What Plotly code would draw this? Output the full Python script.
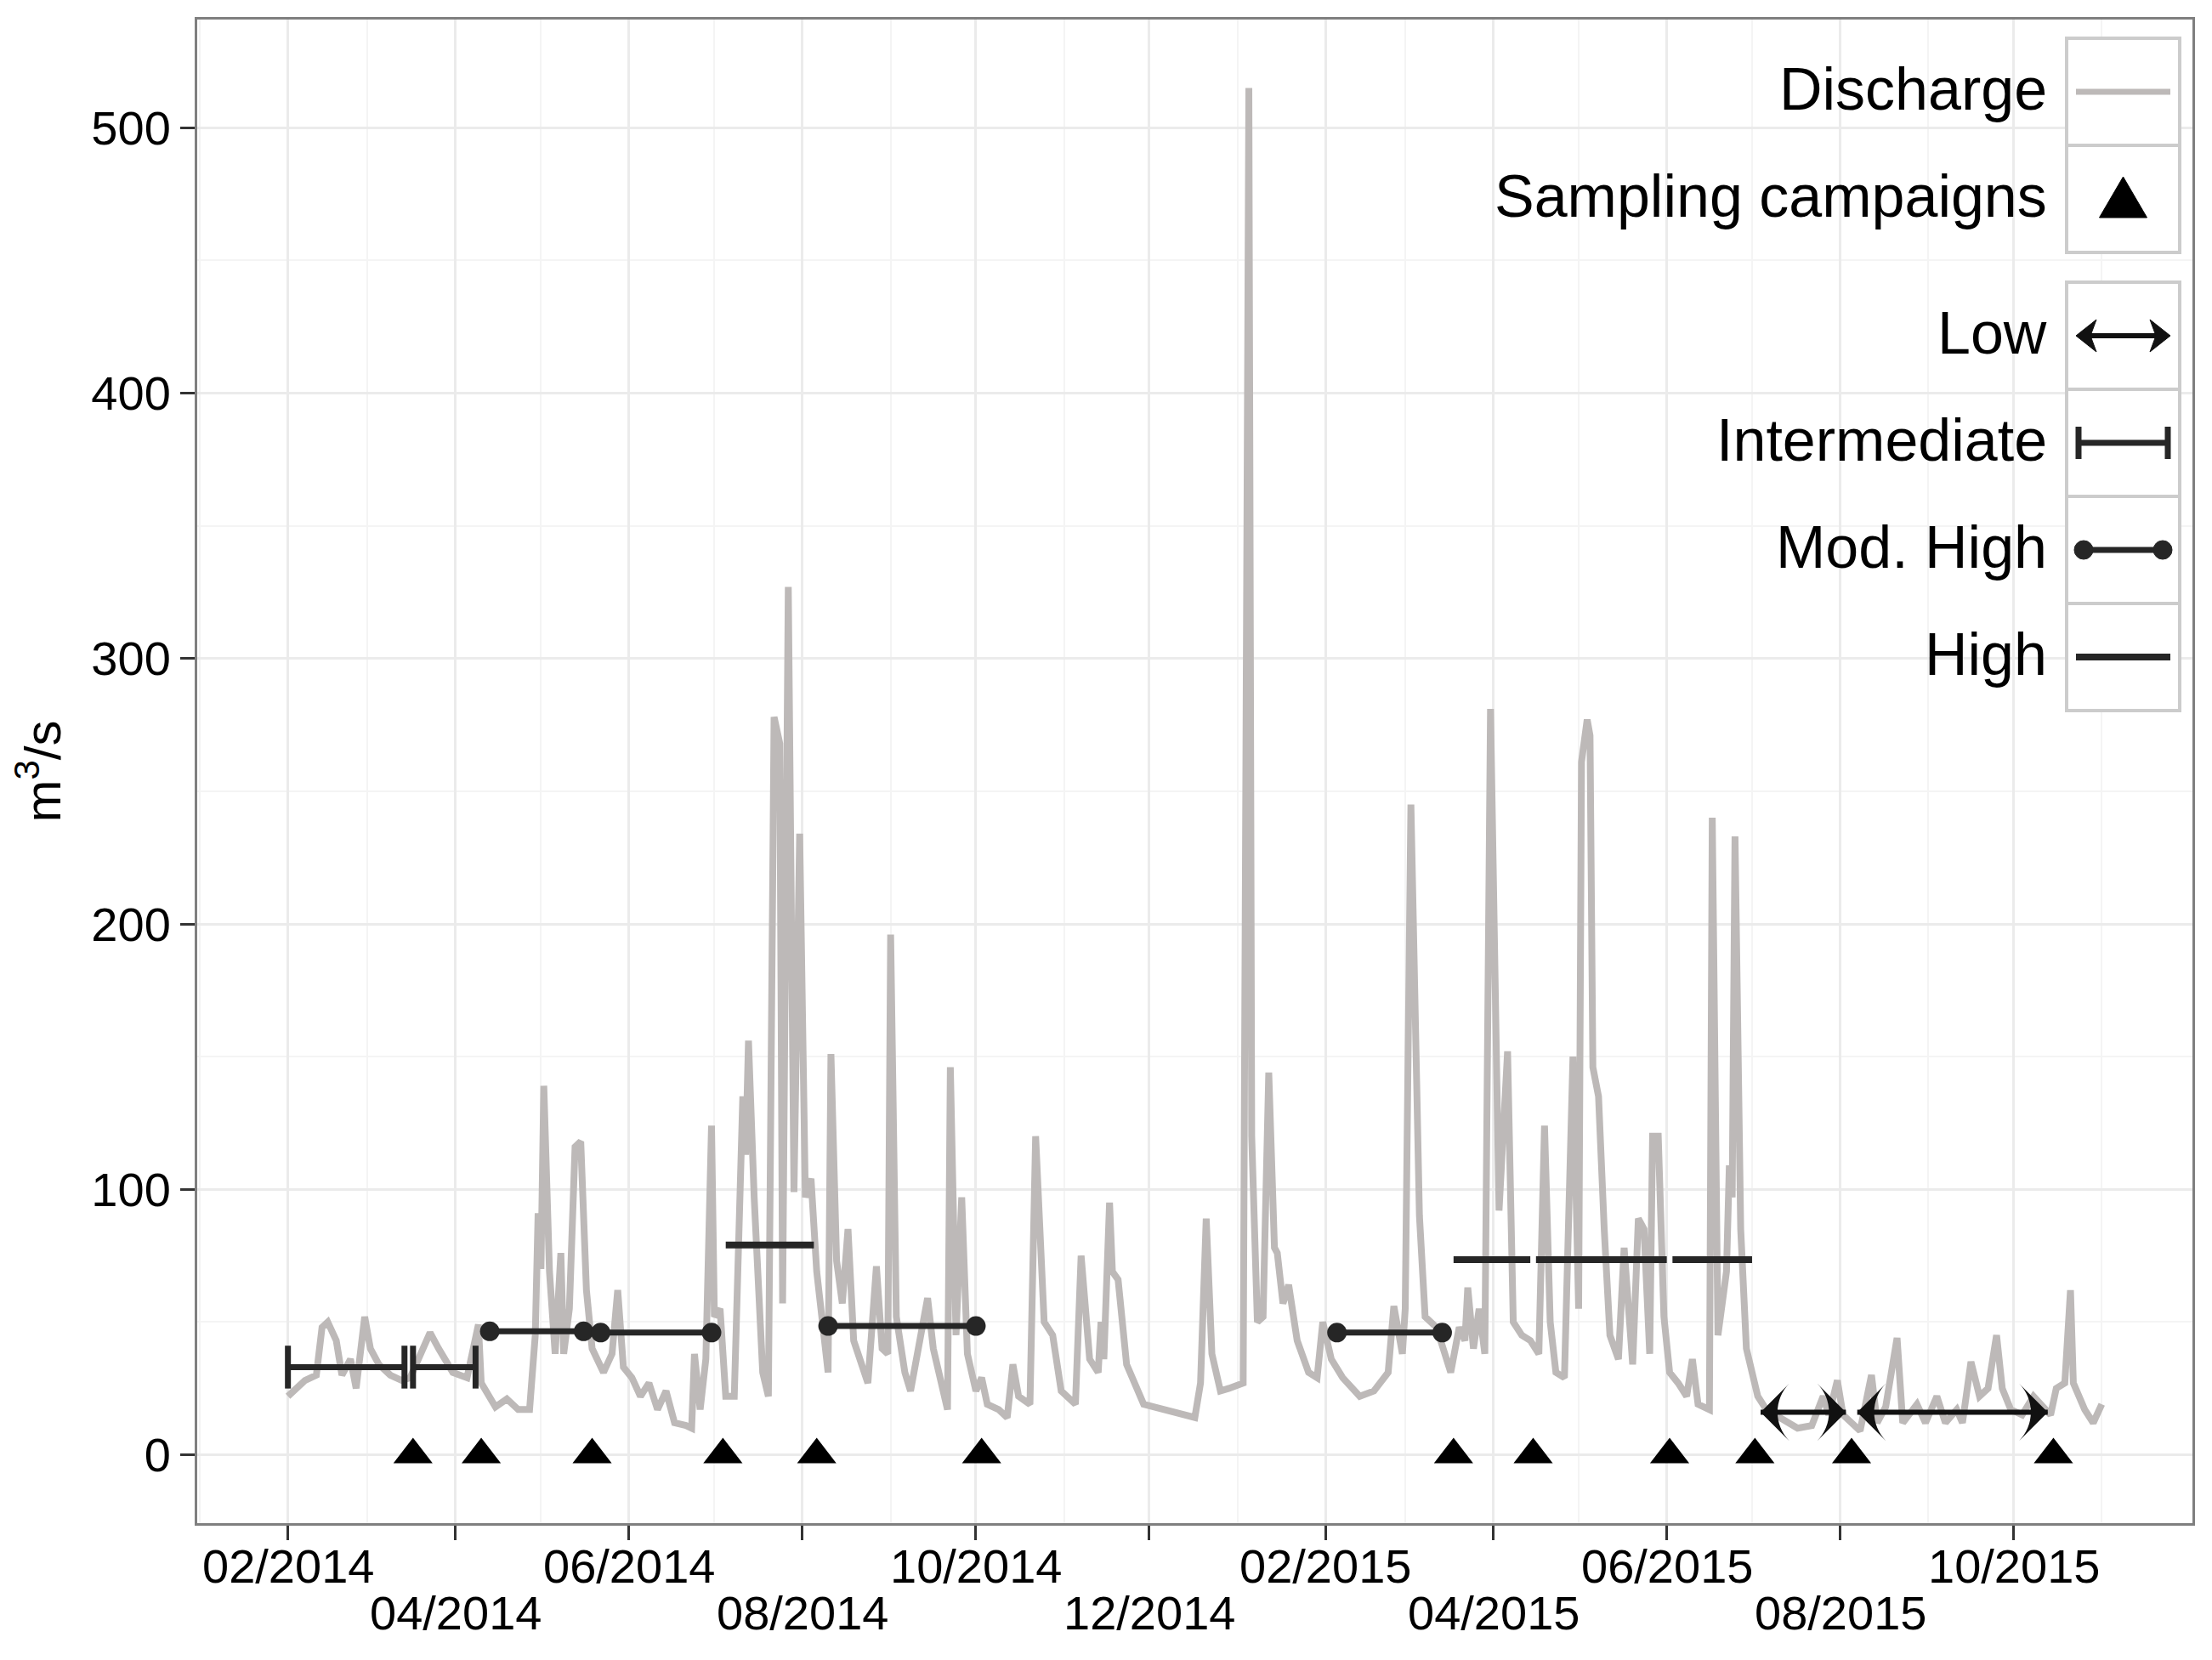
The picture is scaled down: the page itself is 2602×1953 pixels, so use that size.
import pandas as pd
import plotly.graph_objects as go

# Discharge: days since 1 Feb 2014 and m3/s
q_day = [0, 6, 10, 12, 14, 17, 19, 22, 24, 27, 29, 32, 36, 40, 43, 46, 50, 53, 58, 63,
         67, 68, 73, 77, 81, 85, 87, 88, 89, 90, 92, 94, 96, 97, 99, 101, 103, 105, 107, 111,
         114, 116, 118, 121, 124, 127, 130, 133, 136, 140, 142, 143, 145, 147, 149, 150, 152, 154, 157, 160,
         161, 162, 164, 167, 169, 171, 173, 174, 176, 178, 180, 182, 184, 186, 188, 190, 191, 193, 195, 197,
         199, 202, 204, 207, 209, 211, 212, 214, 217, 219, 222, 225, 227, 232, 233, 235, 237, 239, 242, 244,
         246, 250, 253, 255, 257, 261, 263, 266, 269, 272, 277, 279, 282, 285, 286, 287, 289, 290, 292, 295,
         301, 311, 319, 321, 323, 325, 328, 331, 336, 338, 339, 341, 343, 345, 347, 348, 350, 352, 355, 359,
         362, 364, 367, 371, 377, 382, 387, 389, 392, 393, 395, 398, 400, 404, 407, 409, 412, 414, 415, 417,
         419, 421, 423, 425, 426, 429, 431, 434, 437, 440, 442, 444, 446, 449, 452, 454, 455, 457, 458, 459,
         461, 463, 465, 468, 470, 473, 475, 477, 479, 480, 482, 484, 486, 489, 492, 494, 496, 500, 501, 503,
         506, 507, 508, 509, 511, 513, 517, 520, 525, 531, 536, 540, 542, 545, 547, 550, 553, 557, 559, 562,
         566, 568, 573, 576, 580, 583, 587, 589, 592, 595, 598, 601, 603, 606, 610, 614, 618, 620, 622, 625,
         627, 628, 632, 635, 638]
q_val = [22, 28, 30, 48, 50, 43, 30, 36, 25, 52, 40, 34, 30, 28, 29, 36, 46, 40, 31, 29,
         49, 27, 18, 21, 17, 17, 45, 91, 70, 139, 69, 38, 76, 38, 55, 116, 118, 62, 40, 31,
         38, 62, 33, 29, 22, 27, 17, 24, 12, 11, 10, 38, 17, 36, 124, 52, 55, 22, 22, 135,
         113, 156, 97, 31, 22, 278, 268, 57, 327, 99, 234, 97, 104, 69, 52, 31, 151, 73, 57, 85,
         43, 34, 27, 71, 40, 38, 196, 52, 31, 24, 43, 59, 40, 17, 146, 45, 97, 38, 24, 29,
         19, 17, 14, 34, 22, 19, 120, 50, 45, 24, 19, 75, 36, 31, 50, 36, 95, 69, 66, 34,
         19, 16, 14, 27, 89, 38, 24, 25, 27, 515, 120, 50, 52, 144, 78, 76, 57, 64, 43, 31,
         29, 50, 36, 29, 22, 24, 31, 56, 38, 55, 245, 90, 52, 48, 38, 31, 48, 43, 63, 40,
         55, 38, 281, 128, 92, 152, 50, 45, 43, 38, 124, 50, 31, 29, 150, 55, 261, 277, 271, 146,
         135, 85, 45, 36, 78, 34, 89, 85, 38, 120, 120, 52, 31, 27, 22, 36, 19, 17, 240, 45,
         69, 109, 97, 233, 85, 40, 22, 17, 14, 10, 11, 22, 15, 28, 15, 12, 9, 30, 12, 18,
         44, 12, 19, 12, 22, 12, 17, 12, 35, 22, 25, 45, 25, 17, 15, 22, 17, 15, 25, 27,
         62, 27, 17, 12, 19]

# Sampling campaigns
campaign_dates = ["2014-03-17", "2014-04-10", "2014-05-19", "2014-07-04", "2014-08-06", "2014-10-03",
                  "2015-03-18", "2015-04-15", "2015-06-02", "2015-07-02", "2015-08-05", "2015-10-15"]

# Flow condition windows before each campaign
low_start = ["2015-07-04", "2015-08-07"]
low_end = ["2015-08-03", "2015-10-13"]
low_level = [16, 16]

inter_start = ["2014-02-01", "2014-03-17"]
inter_end = ["2014-03-14", "2014-04-08"]
inter_level = [33, 33]

modhigh_start = ["2014-04-13", "2014-05-22", "2014-08-10", "2015-02-05"]
modhigh_end = ["2014-05-16", "2014-06-30", "2014-10-01", "2015-03-14"]
modhigh_level = [46.5, 46, 48.5, 46]

high_start = ["2014-07-05", "2015-03-18", "2015-04-16", "2015-06-03"]
high_end = ["2014-08-05", "2015-04-14", "2015-06-01", "2015-07-01"]
high_level = [79, 73.5, 73.5, 73.5]

tick_dates = ["2014-02-01", "2014-04-01", "2014-06-01", "2014-08-01", "2014-10-01", "2014-12-01",
              "2015-02-01", "2015-04-01", "2015-06-01", "2015-08-01", "2015-10-01"]
tick_labels = ["02/2014", "04/2014", "06/2014", "08/2014", "10/2014", "12/2014",
               "02/2015", "04/2015", "06/2015", "08/2015", "10/2015"]
minor_dates = ["2014-01-01", "2014-03-01", "2014-05-01", "2014-07-01", "2014-09-01", "2014-11-01",
               "2015-01-01", "2015-03-01", "2015-05-01", "2015-07-01", "2015-09-01", "2015-11-01"]

FONT = "Liberation Sans, Arial, sans-serif"
GREY = "#bdb9b8"
DARK = "#262626"

q_dates = pd.Timestamp("2014-02-01") + pd.to_timedelta(q_day, unit="D")


def segments(starts, ends, levels):
    xs, ys = [], []
    for s, e, v in zip(starts, ends, levels):
        xs += [s, e, None]
        ys += [v, v, None]
    return xs, ys


fig = go.Figure()

fig.add_trace(go.Scatter(x=q_dates, y=q_val, mode="lines",
                         line=dict(color=GREY, width=8), showlegend=False))

# flow condition bars
x, y = segments(high_start, high_end, high_level)
fig.add_trace(go.Scatter(x=x, y=y, mode="lines", line=dict(color=DARK, width=8), showlegend=False))

x, y = segments(modhigh_start, modhigh_end, modhigh_level)
fig.add_trace(go.Scatter(x=x, y=y, mode="lines+markers", line=dict(color=DARK, width=7),
                         marker=dict(symbol="circle", size=23, color=DARK), showlegend=False))

x, y = segments(inter_start, inter_end, inter_level)
fig.add_trace(go.Scatter(x=x, y=y, mode="lines+markers", line=dict(color=DARK, width=7),
                         marker=dict(symbol="line-ns", size=36, line=dict(color=DARK, width=7)),
                         showlegend=False))

x, y = segments(low_start, low_end, low_level)
fig.add_trace(go.Scatter(x=x, y=y, mode="lines+markers", line=dict(color="#111111", width=6),
                         marker=dict(symbol="arrow-wide", size=48, color="#111111",
                                     angle=[-90, 90, 0] * len(low_start)),
                         showlegend=False))

fig.add_trace(go.Scatter(x=campaign_dates, y=[0] * len(campaign_dates), mode="markers",
                         marker=dict(symbol="triangle-up", size=40, color="black"), showlegend=False))

# ---- page geometry (pixels); the page body adds an 8 px offset
W, H = 2602, 1953
OFF = 8
L, R, T, B = 232, 23, 23, 161


def px(v):
    return (v - L) / (W - L - R)


def py(v):
    return (H - B - v) / (H - T - B)


shapes = []
annotations = []

key_x0, key_x1 = 2431, 2564
key_h = 126
key_tops = [45, 45 + key_h, 332, 332 + key_h, 332 + 2 * key_h, 332 + 3 * key_h]
for top in key_tops:
    shapes.append(dict(type="rect", xref="paper", yref="paper",
                       x0=px(key_x0), x1=px(key_x1), y0=py(top), y1=py(top + key_h),
                       fillcolor="white", line=dict(color="#cccccc", width=4)))

legend_labels = ["Discharge", "Sampling campaigns", "Low", "Intermediate", "Mod. High", "High"]
for lab, top in zip(legend_labels, key_tops):
    annotations.append(dict(text=lab, xref="paper", yref="paper", x=px(2410), y=py(top + key_h / 2 - 3),
                            xanchor="right", yanchor="middle", showarrow=False,
                            font=dict(family=FONT, size=70, color="black")))

a, b = 2442, 2553


def hline(x0, x1, yc, color, width):
    return dict(type="line", xref="paper", yref="paper", x0=px(x0), x1=px(x1),
                y0=py(yc), y1=py(yc), line=dict(color=color, width=width))


def poly(points, color):
    path = "M " + " L ".join(f"{px(p[0])},{py(p[1])}" for p in points) + " Z"
    return dict(type="path", xref="paper", yref="paper", path=path,
                fillcolor=color, line=dict(color=color, width=1))


# Discharge
c = key_tops[0] + key_h / 2
shapes.append(hline(a, b, c, GREY, 7))
# Sampling campaigns
c = key_tops[1] + key_h / 2
mid = (a + b) / 2
shapes.append(poly([(mid - 28, c + 22), (mid + 28, c + 22), (mid, c - 26)], "black"))
# Low
c = key_tops[2] + key_h / 2
shapes.append(hline(a + 8, b - 8, c, "#111111", 6))
shapes.append(poly([(a, c), (a + 24, c - 19), (a + 17, c), (a + 24, c + 19)], "#111111"))
shapes.append(poly([(b, c), (b - 24, c - 19), (b - 17, c), (b - 24, c + 19)], "#111111"))
# Intermediate
c = key_tops[3] + key_h / 2
shapes.append(hline(a, b, c, DARK, 7))
for xx in (a + 3, b - 3):
    shapes.append(dict(type="line", xref="paper", yref="paper", x0=px(xx), x1=px(xx),
                       y0=py(c - 19), y1=py(c + 19), line=dict(color=DARK, width=7)))
# Mod. High
c = key_tops[4] + key_h / 2
shapes.append(hline(a + 9, b - 9, c, DARK, 7))
for xx in (a + 9, b - 9):
    shapes.append(dict(type="circle", xref="paper", yref="paper",
                       x0=px(xx - 11), x1=px(xx + 11), y0=py(c - 11), y1=py(c + 11),
                       fillcolor=DARK, line=dict(color=DARK, width=1)))
# High
c = key_tops[5] + key_h / 2
shapes.append(hline(a, b, c, DARK, 8))

# date labels in two staggered rows under the axis
for i, (d, lab) in enumerate(zip(tick_dates, tick_labels)):
    annotations.append(dict(text=lab, x=d, xref="x", y=0, yref="paper", yanchor="middle",
                            yshift=-50 if i % 2 == 0 else -105, showarrow=False,
                            font=dict(family=FONT, size=56, color="black")))

fig.update_layout(
    width=W - 2 * OFF, height=H - 2 * OFF,
    margin=dict(l=L - OFF, r=R - OFF, t=T - OFF, b=B - OFF),
    paper_bgcolor="white", plot_bgcolor="white",
    font=dict(family=FONT, size=56, color="black"),
    shapes=shapes, annotations=annotations,
    xaxis=dict(type="date", range=["2013-12-31 02:24", "2015-12-02 21:36"],
               tickvals=tick_dates, showticklabels=False,
               ticks="outside", ticklen=17, tickwidth=3, tickcolor="#333333",
               showgrid=True, gridcolor="#ebebeb", gridwidth=3,
               minor=dict(tickvals=minor_dates, showgrid=True, gridcolor="#f4f4f4", gridwidth=2),
               showline=True, mirror=True, linecolor="#7f7f7f", linewidth=3, zeroline=False),
    yaxis=dict(range=[-25.8, 540.8], tickvals=[0, 100, 200, 300, 400, 500],
               ticks="outside", ticklen=17, tickwidth=3, tickcolor="#333333",
               tickfont=dict(family=FONT, size=56, color="black"),
               showgrid=True, gridcolor="#ebebeb", gridwidth=3,
               minor=dict(tickvals=[50, 150, 250, 350, 450], showgrid=True,
                          gridcolor="#f4f4f4", gridwidth=2),
               showline=True, mirror=True, linecolor="#7f7f7f", linewidth=3, zeroline=False,
               title=dict(text="m<sup>3</sup>/s", standoff=28,
                          font=dict(family=FONT, size=60, color="black"))),
)

fig.write_html("out.html")
